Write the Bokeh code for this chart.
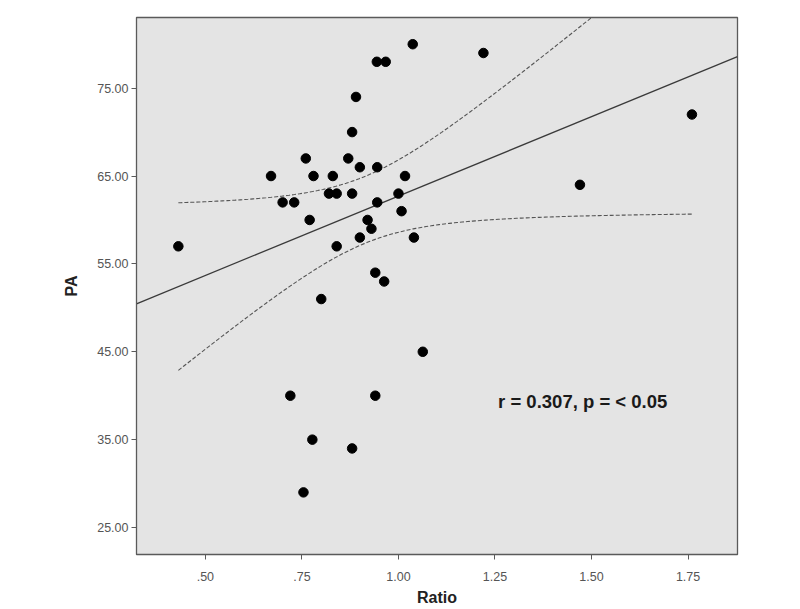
import numpy as np
from bokeh.plotting import figure
from bokeh.models import FixedTicker, Range1d
from bokeh.core.properties import value
from bokeh.embed import file_html
from bokeh.resources import INLINE

ratio = [0.43, 0.67, 0.70, 0.73, 0.76, 0.78, 0.77, 0.83, 0.82, 0.84,
         0.84, 0.88, 0.87, 0.88, 0.89, 0.90, 0.90, 0.92, 0.93, 0.945,
         0.945, 0.94, 0.963, 0.944, 0.967, 1.037, 1.017, 1.00, 1.008, 1.04,
         0.80, 1.063, 0.72, 0.94, 0.777, 0.88, 0.754, 1.22, 1.76, 1.47]
pa = [57, 65, 62, 62, 67, 65, 60, 65, 63, 63,
      57, 63, 67, 70, 74, 66, 58, 60, 59, 62,
      66, 54, 53, 78, 78, 80, 65, 63, 61, 58,
      51, 45, 40, 40, 35, 34, 29, 79, 72, 64]

x_ticks = [0.50, 0.75, 1.00, 1.25, 1.50, 1.75]
x_tick_labels = [".50", ".75", "1.00", "1.25", "1.50", "1.75"]
y_ticks = [25, 35, 45, 55, 65, 75]
y_tick_labels = ["25.00", "35.00", "45.00", "55.00", "65.00", "75.00"]
annotation = "r = 0.307, p = < 0.05"

# fit line and 95% mean-confidence band
fit_slope = 18.07
fit_intercept = 44.65
resid_sd = 11.9
t_crit = 2.024  # t(0.975, df=38)

x = np.array(ratio)
y = np.array(pa)
n = len(x)
xbar = x.mean()
sxx = np.sum((x - xbar) ** 2)

x0, x1 = 0.3216, 1.878
W, H = 790, 608
p = figure(width=W, height=H, output_backend="svg", toolbar_location=None,
           x_range=Range1d(x0, x1), y_range=Range1d(21.93, 83.04),
           min_border_left=136, min_border_right=W - 737, min_border_top=17,
           min_border_bottom=H - 554)
p.background_fill_color = "#e4e4e4"
p.border_fill_color = "white"
p.outline_line_color = "#5a5a5a"
p.outline_line_width = 1.3
p.grid.visible = False

xs_line = np.array([x0, x1])
p.line(xs_line, fit_slope * xs_line + fit_intercept, line_color="#3a3a3a", line_width=1.3)

xc = np.linspace(x.min(), x.max(), 200)
fit = fit_slope * xc + fit_intercept
half = t_crit * resid_sd * np.sqrt(1.0 / n + (xc - xbar) ** 2 / sxx)
p.line(xc, fit + half, line_color="#555555", line_width=1.1, line_dash="4 2")
p.line(xc, fit - half, line_color="#555555", line_width=1.1, line_dash="4 2")

p.scatter(x, y, size=9.5, marker="circle", fill_color="black", line_color="black")

p.text(x=[1.258], y=[39.3], text=[annotation], text_font=value("Liberation Sans"),
       text_font_size="18.5px", text_font_style="bold", text_color="#1a1a1a",
       text_align="left", text_baseline="middle")

for ax in (p.xaxis[0], p.yaxis[0]):
    ax.axis_line_color = "#5a5a5a"
    ax.major_tick_line_color = "#5a5a5a"
    ax.major_tick_in = 0
    ax.major_tick_out = 5
    ax.minor_tick_line_color = None
    ax.major_label_text_font = "Liberation Sans"
    ax.major_label_text_font_size = "12.5px"
    ax.major_label_text_color = "#555555"
    ax.axis_label_text_font = "Liberation Sans"
    ax.axis_label_text_font_size = "16px"
    ax.axis_label_text_font_style = "bold"
    ax.axis_label_text_color = "#222222"

p.xaxis.ticker = FixedTicker(ticks=x_ticks)
p.xaxis.major_label_overrides = dict(zip(x_ticks, x_tick_labels))
p.yaxis.ticker = FixedTicker(ticks=y_ticks)
p.yaxis.major_label_overrides = dict(zip(y_ticks, y_tick_labels))
p.xaxis.axis_label = "Ratio"
p.yaxis.axis_label = "PA"
p.xaxis.major_label_standoff = 12
p.xaxis.axis_label_standoff = 5
p.yaxis.major_label_standoff = 3
p.yaxis.axis_label_standoff = 14

open("out.html", "w").write(file_html(p, INLINE))
